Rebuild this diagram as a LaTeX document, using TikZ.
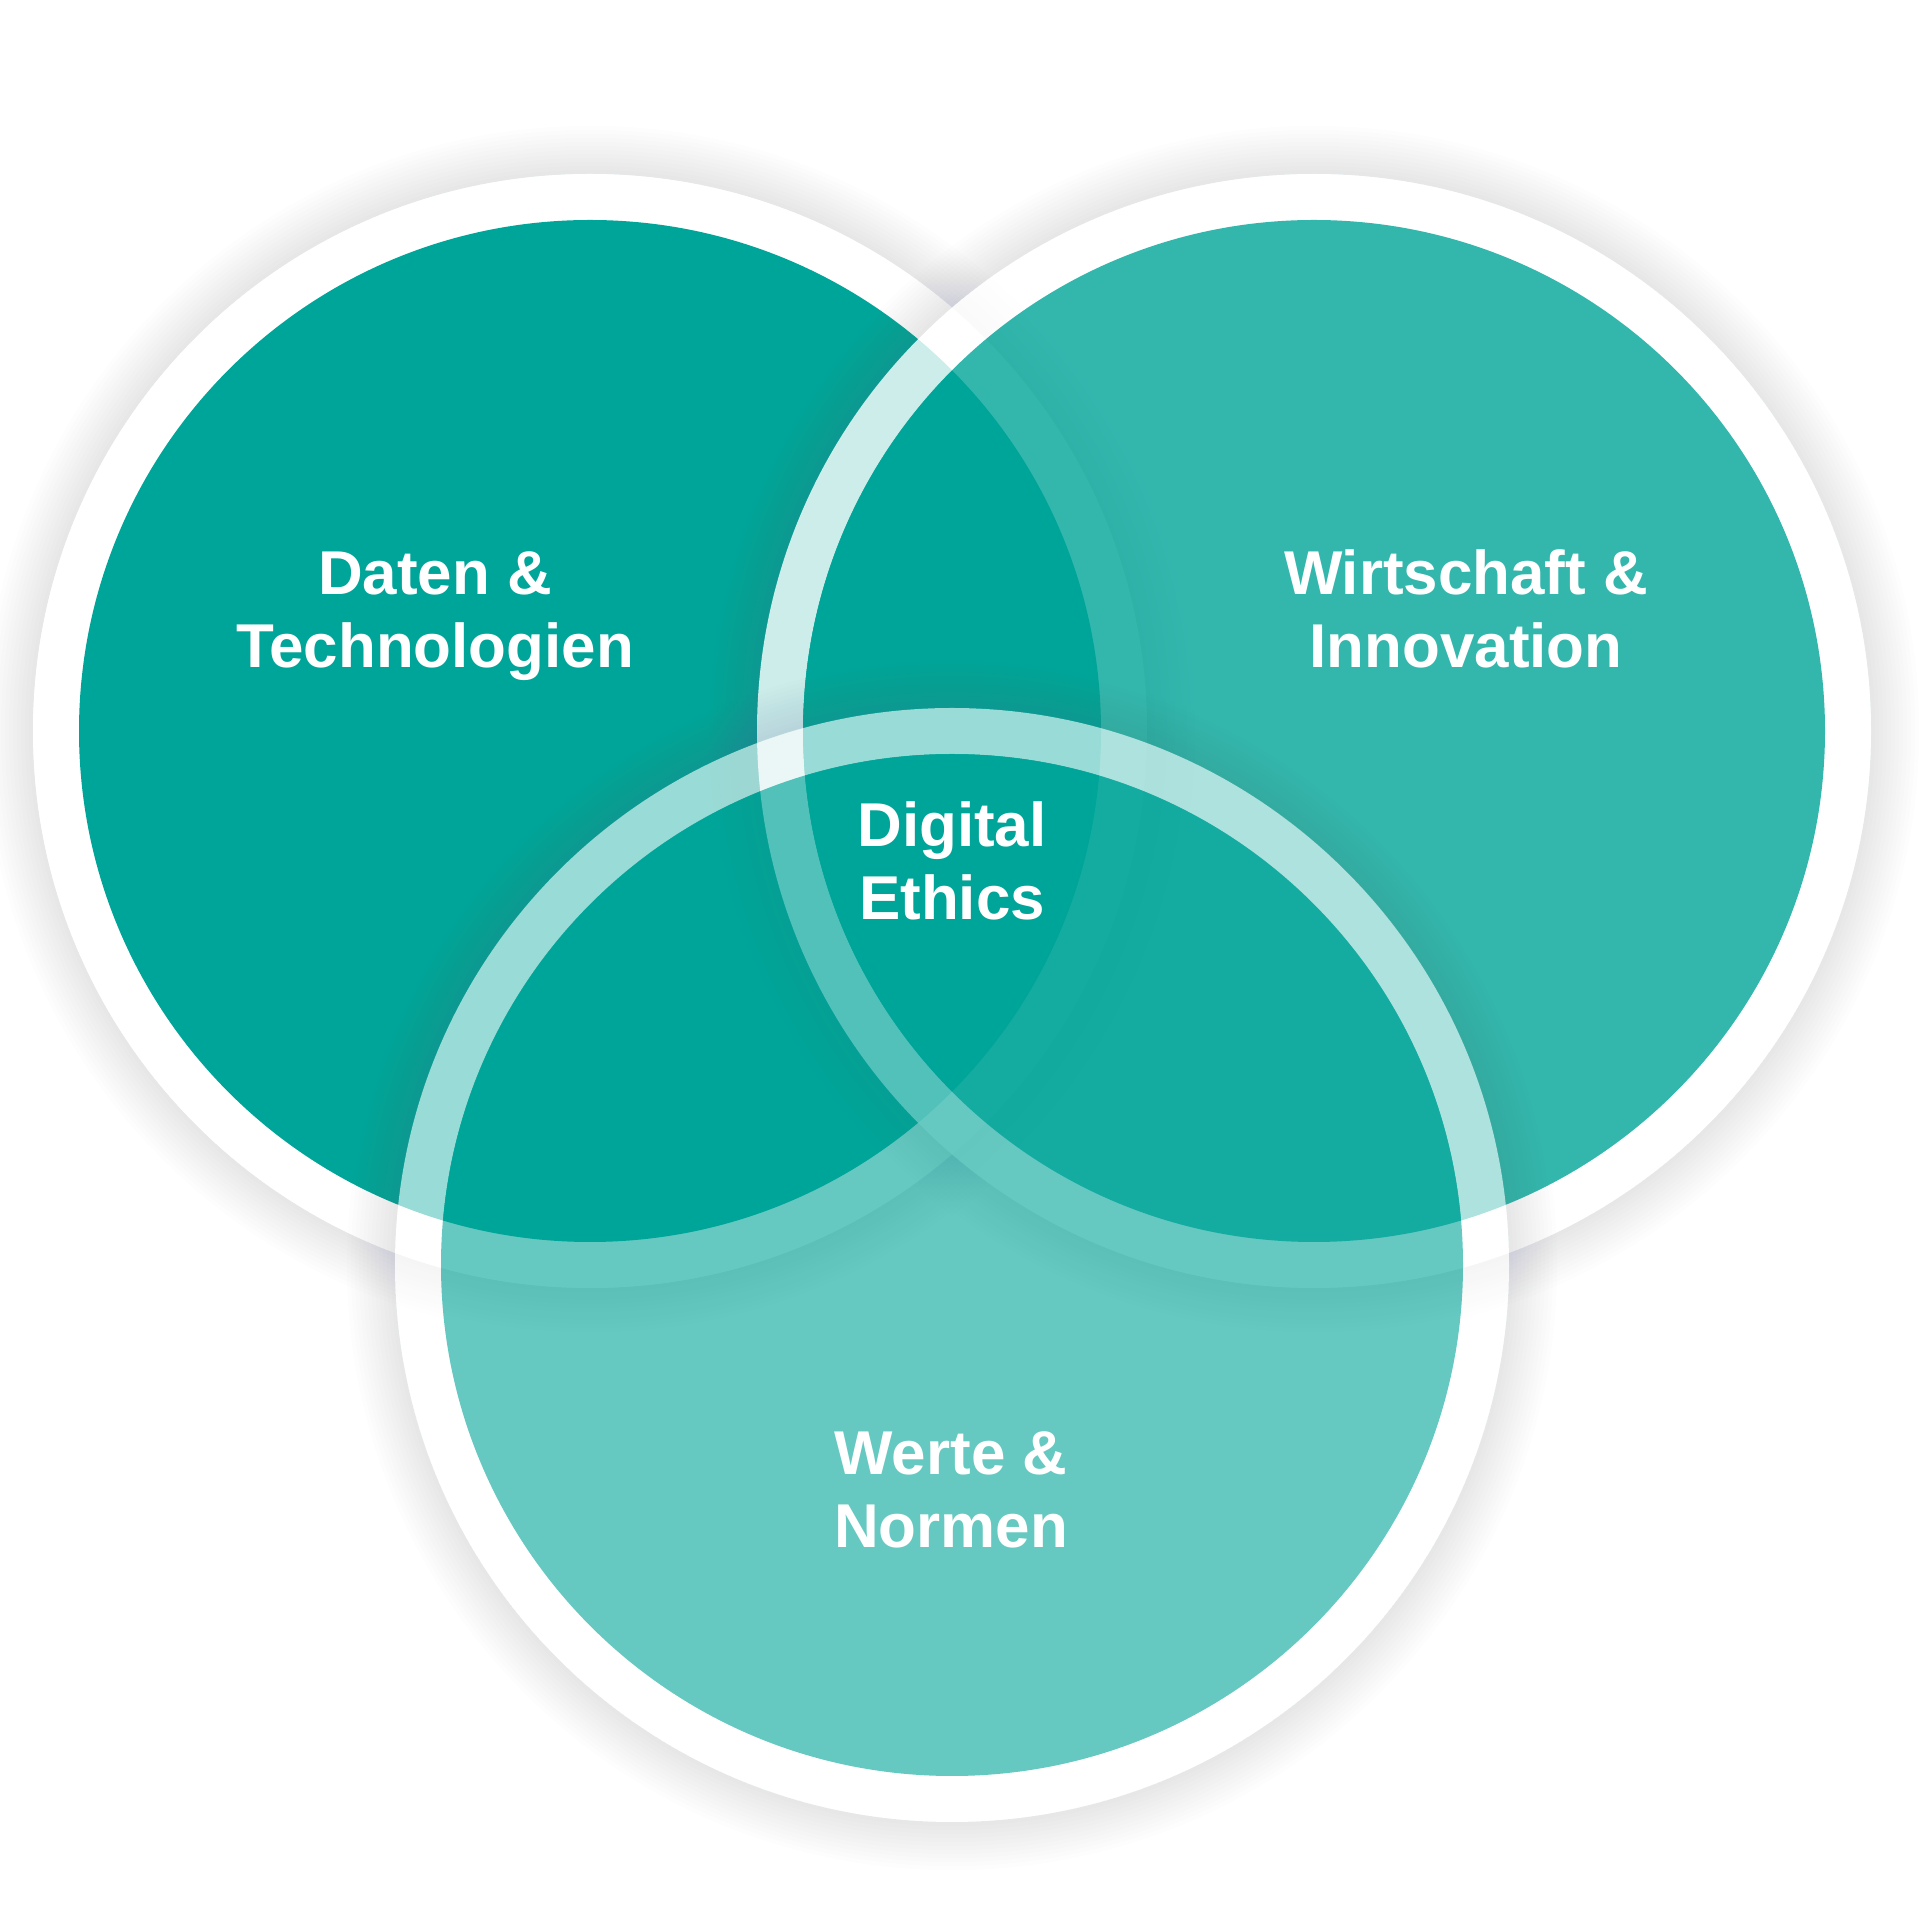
\documentclass[tikz,border=0pt]{standalone}
\usepackage{fontspec}
\setmainfont{Liberation Sans}
\definecolor{tealA}{RGB}{0,165,153}
\definecolor{shd}{RGB}{105,125,145}
\begin{document}
\begin{tikzpicture}[x=0.01cm,y=0.01cm,
  lbl/.style={text=white,font=\fontsize{17.6}{20.8}\selectfont\bfseries,inner sep=0pt,anchor=base},
  shadowring/.style={shd,fill opacity=0.011,even odd rule},
  whitering/.style={white,even odd rule}]
\useasboundingbox (0,0) rectangle (1920,1920);
\fill[white] (0,0) rectangle (1920,1920);
\coordinate (cA) at (590,1189);
\coordinate (cB) at (1314,1189);
\coordinate (cC) at (952,655);
% circle A
\foreach \k in {1,...,12}
  \fill[shadowring] (cA) circle[radius=557+4*\k] (cA) circle[radius=557];
\fill[white] (cA) circle[radius=557];
\fill[tealA] (cA) circle[radius=511];
% circle B
\foreach \k in {1,...,12}
  \fill[shadowring] (cB) circle[radius=557+4*\k] (cB) circle[radius=557];
\fill[whitering,fill opacity=0.8] (cB) circle[radius=557] (cB) circle[radius=511];
\fill[tealA,fill opacity=0.8] (cB) circle[radius=511];
% circle C
\foreach \k in {1,...,12}
  \fill[shadowring] (cC) circle[radius=557+4*\k] (cC) circle[radius=557];
\fill[whitering,fill opacity=0.6] (cC) circle[radius=557] (cC) circle[radius=511];
\fill[tealA,fill opacity=0.6] (cC) circle[radius=511];
% labels
\node[lbl] (dt1) at (435,1325) {Daten \&};
\node[lbl] (dt2) at (435,1252) {Technologien};
\node[lbl] (wi1) at (1466,1325) {Wirtschaft \&};
\node[lbl] (wi2) at (1466,1252) {Innovation};
\node[lbl] (de1) at (952,1073) {Digital};
\node[lbl] (de2) at (952,1000) {Ethics};
\node[lbl] (wn1) at (951,445) {Werte \&};
\node[lbl] (wn2) at (951,372) {Normen};
\end{tikzpicture}
\end{document}
